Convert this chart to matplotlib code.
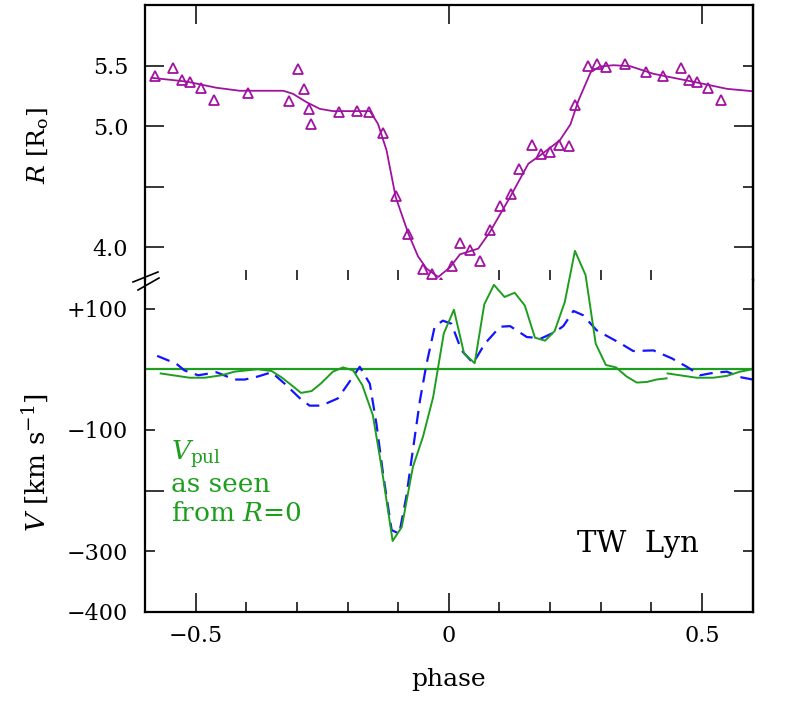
import matplotlib
matplotlib.use('Agg')
import matplotlib.pyplot as plt
from matplotlib.ticker import FixedLocator, FixedFormatter

plt.rcParams['font.family'] = 'DejaVu Serif'
plt.rcParams['mathtext.fontset'] = 'dejavuserif'

# radius from the light curve: measured points (triangles) and smooth fit
r_phase = [-0.581, -0.544, -0.527, -0.511, -0.490, -0.464, -0.397, -0.316, -0.298, -0.287,
           -0.276, -0.272, -0.217, -0.182, -0.158, -0.131, -0.105, -0.080, -0.052, -0.034,
           -0.016, 0.006, 0.022, 0.041, 0.062, 0.082, 0.101, 0.122, 0.139, 0.165,
           0.182, 0.200, 0.217, 0.238, 0.250, 0.274, 0.292, 0.310, 0.348, 0.389,
           0.422, 0.458, 0.475, 0.490, 0.512, 0.537]
r_obs = [5.418, 5.481, 5.382, 5.368, 5.317, 5.212, 5.275, 5.209, 5.470, 5.305,
         5.143, 5.017, 5.115, 5.121, 5.119, 4.946, 4.423, 4.107, 3.821, 3.777,
         3.703, 3.846, 4.039, 3.975, 3.885, 4.140, 4.344, 4.443, 4.649, 4.841,
         4.772, 4.786, 4.847, 4.833, 5.176, 5.495, 5.514, 5.492, 5.514, 5.445,
         5.418, 5.484, 5.379, 5.363, 5.317, 5.212]

rfit_phase = [-0.587, -0.518, -0.459, -0.413, -0.327, -0.308, -0.281, -0.255, -0.229, -0.156,
              -0.140, -0.123, -0.105, -0.080, -0.061, -0.044, -0.021, 0.002, 0.022, 0.058,
              0.081, 0.121, 0.157, 0.180, 0.219, 0.240, 0.256, 0.280, 0.298, 0.325,
              0.358, 0.404, 0.496, 0.549, 0.598]
rfit = [5.399, 5.368, 5.317, 5.292, 5.292, 5.267, 5.198, 5.143, 5.124, 5.124,
        5.020, 4.800, 4.415, 4.113, 3.926, 3.824, 3.755, 3.833, 3.942, 3.989,
        4.126, 4.415, 4.690, 4.758, 4.882, 5.014, 5.212, 5.445, 5.492, 5.503,
        5.495, 5.432, 5.355, 5.308, 5.289]

# pulsation velocity seen from R=0 (green, two pieces)
vpul_phase1 = [-0.569, -0.512, -0.482, -0.449, -0.423, -0.377, -0.350, -0.331, -0.311, -0.292,
               -0.271, -0.252, -0.229, -0.209, -0.189, -0.171, -0.150, -0.133, -0.111, -0.093,
               -0.071, -0.051, -0.031, -0.010, 0.010, 0.030, 0.051, 0.070, 0.089, 0.110,
               0.130, 0.150, 0.170, 0.190, 0.209, 0.229, 0.249, 0.270, 0.290, 0.310,
               0.330, 0.351, 0.371, 0.391, 0.410, 0.430]
vpul1 = [-7, -14, -14, -10, -4, 0, -3, -13, -26, -39,
         -36, -23, -4, 3, -2, -26, -76, -161, -283, -260,
         -161, -111, -46, 59, 98, 26, 10, 107, 139, 119,
         126, 105, 52, 47, 63, 111, 195, 155, 42, 7,
         3, -12, -22, -21, -17, -15]
vpul_phase2 = [0.432, 0.489, 0.522, 0.549, 0.575, 0.600]
vpul2 = [-7, -14, -14, -11, -4, 0]

# radial velocity (blue dashed)
vrad_phase = [-0.576, -0.538, -0.522, -0.495, -0.459, -0.423, -0.403, -0.377, -0.350, -0.324,
              -0.294, -0.275, -0.252, -0.219, -0.199, -0.176, -0.156, -0.143, -0.130, -0.113,
              -0.098, -0.084, -0.071, -0.057, -0.044, -0.028, -0.012, 0.005, 0.025, 0.048,
              0.071, 0.101, 0.121, 0.154, 0.183, 0.209, 0.226, 0.246, 0.265, 0.292,
              0.338, 0.364, 0.404, 0.440, 0.470, 0.496, 0.522, 0.549, 0.575, 0.600]
vrad = [22, 9, -2, -10, -5, -17, -17, -12, -5, -24,
        -48, -60, -60, -48, -24, 4, -24, -90, -172, -265,
        -271, -210, -133, -51, 9, 70, 80, 75, 31, 10,
        42, 70, 71, 53, 51, 61, 71, 96, 89, 64,
        43, 30, 31, 18, 4, -10, -6, -4, -13, -17]

magenta = '#a012a0'
green = '#1e9e1e'
blue = '#1414ff'

W, H = 792, 722
fig = plt.figure(figsize=(W / 100, H / 100), dpi=100)
x0, x1 = 145 / W, 752.7 / W
ytop, ymid, ybot = 1 - 5 / H, 1 - 280 / H, 1 - 612 / H
axR = fig.add_axes([x0, ymid, x1 - x0, ytop - ymid])
axV = fig.add_axes([x0, ybot, x1 - x0, ymid - ybot])

big, small = 13.5, 7.0
fs = 16

for ax in (axR, axV):
    ax.set_xlim(-0.6, 0.6)
    ax.xaxis.set_major_locator(FixedLocator([-0.5, 0, 0.5]))
    ax.xaxis.set_minor_locator(FixedLocator([-0.4, -0.3, -0.2, -0.1, 0.1, 0.2, 0.3, 0.4]))
    ax.tick_params(which='both', direction='in', width=1.1, labelsize=fs, right=False)
    ax.tick_params(which='major', length=big)
    ax.tick_params(which='minor', length=small)
    for s in ax.spines.values():
        s.set_linewidth(1.6)

# top panel: radius
axR.plot(rfit_phase, rfit, color=magenta, lw=1.3)
axR.plot(r_phase, r_obs, ls='none', marker='^', ms=7.5, mfc='none', mec=magenta, mew=1.3)
axR.set_ylim(3.73, 6.0)
axR.yaxis.set_major_locator(FixedLocator([4.0, 4.5, 5.0, 5.5]))
axR.yaxis.set_major_formatter(FixedFormatter(['4.0', '', '5.0', '5.5']))
axR.tick_params(axis='y', pad=12)
axR.tick_params(axis='x', bottom=False, top=True, labelbottom=False)
axR.spines['bottom'].set_visible(False)
axR.set_ylabel(r'$R$ [R$_\mathrm{o}$]', fontsize=18)
axR.yaxis.set_label_coords(-0.155, 0.49)

secR = axR.secondary_yaxis('right')
secR.set_yticks([4.0, 5.0])
secR.yaxis.set_minor_locator(FixedLocator([4.5, 5.5]))
secR.tick_params(which='both', direction='in', width=1.1, labelright=False)
secR.tick_params(which='major', length=big)
secR.tick_params(which='minor', length=small)
secR.spines['right'].set_linewidth(1.6)

# bottom panel: velocities (green peak rises above the break, so no clipping)
axV.axhline(0, color=green, lw=1.6)
axV.plot(vrad_phase, vrad, color=blue, lw=1.6, dashes=(6, 3.5), clip_on=False)
axV.plot(vpul_phase1, vpul1, color=green, lw=1.4, clip_on=False)
axV.plot(vpul_phase2, vpul2, color=green, lw=1.4, clip_on=False)
axV.set_ylim(-400, 147)
axV.yaxis.set_major_locator(FixedLocator([0, -200, -400]))
axV.yaxis.set_major_formatter(FixedFormatter(['', '', '\u2212400']))
axV.yaxis.set_minor_locator(FixedLocator([100, -100, -300]))
axV.yaxis.set_minor_formatter(FixedFormatter(['+100', '\u2212100', '\u2212300']))
axV.tick_params(axis='y', which='both', pad=12, labelsize=fs)
axV.tick_params(axis='x', top=False, pad=9)
axV.spines['top'].set_visible(False)
axV.set_xticklabels(['\u22120.5', '0', '0.5'])
axV.set_ylabel(r'$V$ [km s$^{-1}$]', fontsize=19)
axV.yaxis.set_label_coords(-0.155, 0.45)
axV.set_xlabel('phase', fontsize=18)
axV.xaxis.set_label_coords(0.5, -0.17)

secV = axV.secondary_yaxis('right')
secV.set_yticks([0, -200])
secV.yaxis.set_minor_locator(FixedLocator([100, -100, -300]))
secV.tick_params(which='both', direction='in', width=1.1, labelright=False)
secV.tick_params(which='major', length=big)
secV.tick_params(which='minor', length=small)
secV.spines['right'].set_linewidth(1.6)

# axis break marks on the left spine
hV = 612 - 280
wA = 752.7 - 145
for (xa, ya), (xb, yb) in [((133, 282), (158, 272)), ((138, 290), (159, 278))]:
    axV.plot([(xa - 145) / wA, (xb - 145) / wA], [1 + (280 - ya) / hV, 1 + (280 - yb) / hV],
             color='black', lw=1.2, transform=axV.transAxes, clip_on=False)

# annotations
fig.text(171 / W, 1 - 460 / H, r'$V_\mathrm{pul}$', color=green, fontsize=19, va='baseline')
fig.text(171 / W, 1 - 491.7 / H, 'as seen', color=green, fontsize=19, va='baseline')
fig.text(171 / W, 1 - 520.7 / H, r'from $R$=0', color=green, fontsize=19, va='baseline')
fig.text(577 / W, 1 - 551.7 / H, 'TW  Lyn', color='black', fontsize=21, va='baseline')

fig.savefig('out.png', dpi=100)
